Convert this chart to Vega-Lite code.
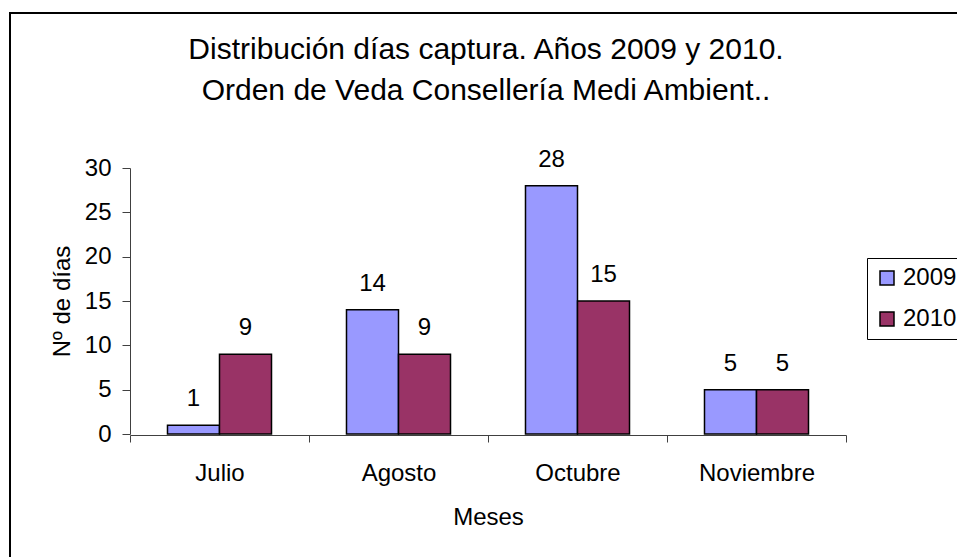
{
  "$schema": "https://vega.github.io/schema/vega-lite/v6.json",
  "autosize": "none",
  "padding": {"left": 10, "top": 13, "right": 0, "bottom": 0},
  "width": 952,
  "height": 550,
  "background": "white",
  "config": {
    "font": "Liberation Sans",
    "view": {"stroke": "black", "strokeWidth": 2, "fill": "white"}
  },
  "title": {
    "text": ["Distribución días captura. Años 2009 y 2010.", "Orden de Veda Consellería Medi Ambient.."],
    "fontSize": 30,
    "fontWeight": "normal",
    "font": "Liberation Sans",
    "color": "black",
    "lineHeight": 41,
    "baseline": "top",
    "anchor": "middle",
    "offset": -93
  },
  "data": {
    "values": [
      {"mes": "Julio", "year": "2009", "dias": 1},
      {"mes": "Julio", "year": "2010", "dias": 9},
      {"mes": "Agosto", "year": "2009", "dias": 14},
      {"mes": "Agosto", "year": "2010", "dias": 9},
      {"mes": "Octubre", "year": "2009", "dias": 28},
      {"mes": "Octubre", "year": "2010", "dias": 15},
      {"mes": "Noviembre", "year": "2009", "dias": 5},
      {"mes": "Noviembre", "year": "2010", "dias": 5}
    ]
  },
  "encoding": {
    "x": {
      "field": "mes",
      "type": "nominal",
      "sort": ["Julio", "Agosto", "Octubre", "Noviembre"],
      "scale": {"range": [120, 836], "paddingInner": 0, "paddingOuter": 0},
      "axis": {
        "title": "Meses",
        "offset": -128,
        "labelAngle": 0,
        "labelFontSize": 24,
        "labelColor": "black",
        "titleFontSize": 24,
        "titleFontWeight": "normal",
        "titleColor": "black",
        "titlePadding": 20,
        "labelPadding": 19,
        "tickSize": 7,
        "tickBand": "extent",
        "tickColor": "#404040",
        "domainColor": "#404040",
        "grid": false
      }
    },
    "xOffset": {
      "field": "year",
      "type": "nominal",
      "scale": {"paddingInner": 0, "paddingOuter": 0.721}
    },
    "y": {
      "field": "dias",
      "type": "quantitative",
      "scale": {"domain": [0, 30], "range": [421, 155], "nice": false},
      "axis": {
        "title": "Nº de días",
        "offset": -120,
        "values": [0, 5, 10, 15, 20, 25, 30],
        "labelFontSize": 24,
        "labelColor": "black",
        "titleFontSize": 24,
        "titleFontWeight": "normal",
        "titleColor": "black",
        "titlePadding": 10,
        "labelPadding": 11,
        "tickSize": 8,
        "tickColor": "#404040",
        "domainColor": "#404040",
        "grid": false
      }
    }
  },
  "layer": [
    {
      "mark": {"type": "bar", "stroke": "black", "strokeWidth": 1.5, "opacity": 1},
      "encoding": {
        "color": {
          "field": "year",
          "type": "nominal",
          "scale": {"domain": ["2009", "2010"], "range": ["#9999FF", "#993366"]},
          "legend": {
            "title": null,
            "orient": "none",
            "legendX": 857,
            "legendY": 245,
            "symbolType": "square",
            "symbolSize": 196,
            "symbolStrokeColor": "black",
            "symbolOpacity": 1,
            "labelFontSize": 24,
            "labelColor": "black",
            "labelOffset": 4,
            "padding": 8,
            "rowPadding": 17,
            "strokeColor": "black",
            "fillColor": "white"
          }
        }
      }
    },
    {
      "mark": {"type": "text", "fontSize": 24, "baseline": "alphabetic", "dy": -19, "color": "black"},
      "encoding": {
        "text": {"field": "dias", "type": "quantitative"}
      }
    }
  ]
}
